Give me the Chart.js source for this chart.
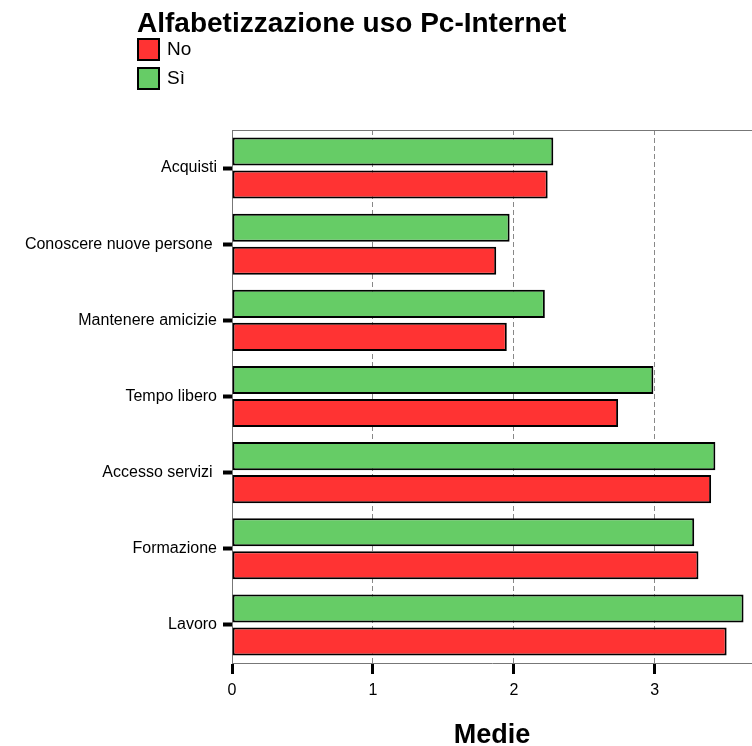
<!DOCTYPE html>
<html>
<head>
<meta charset="utf-8">
<script src="https://cdn.jsdelivr.net/npm/chart.js@4/dist/chart.umd.min.js"></script>
<style>
  body { margin: 0; background: #fff; font-family: "Liberation Sans", Arial, sans-serif; }
  #wrap { position: relative; width: 752px; height: 746px; }
  #chartContainer { position: absolute; left: 0; top: 0; }
  #title { position: absolute; left: 137px; top: 7px; font-size: 28px; font-weight: bold; color: #000; white-space: nowrap; }
  #legend { position: absolute; left: 137px; top: 38px; }
  .item { display: flex; align-items: center; height: 22px; margin-bottom: 7px; font-size: 19px; }
  .box { width: 19px; height: 19px; border: 2px solid #000; margin-right: 7px; }
</style>
</head>
<body>
<div id="wrap">
  <canvas id="chartContainer" width="752" height="746"></canvas>
  <div id="title">Alfabetizzazione uso Pc-Internet</div>
  <div id="legend"></div>
</div>
<script>
// Variables
const categories = ['Acquisti', 'Conoscere nuove persone ', 'Mantenere amicizie', 'Tempo libero', 'Accesso servizi ', 'Formazione', 'Lavoro'];
const siValues = [2.28, 1.97, 2.22, 2.99, 3.43, 3.28, 3.63];
const noValues = [2.24, 1.875, 1.95, 2.74, 3.40, 3.31, 3.51];
const xTicks = [0, 1, 2, 3];
const legendOrder = ['No', 'Sì'];
const colors = { 'No': '#FF3333', 'Sì': '#66CC66' };

// Build the legend (No first, Sì second as in the picture)
const legendDiv = document.getElementById('legend');
legendOrder.forEach(name => {
    const item = document.createElement('div');
    item.className = 'item';
    item.innerHTML = '<div class="box" style="background:' + colors[name] + '"></div><span>' + name + '</span>';
    legendDiv.appendChild(item);
});

// Draws the grey line along the top of the plot area
const frameTop = {
    id: 'frameTop',
    afterDraw(chart) {
        const { ctx, chartArea } = chart;
        ctx.save();
        ctx.strokeStyle = '#777';
        ctx.lineWidth = 1;
        ctx.beginPath();
        ctx.moveTo(chartArea.left, chartArea.top + 0.5);
        ctx.lineTo(chartArea.right, chartArea.top + 0.5);
        ctx.stroke();
        ctx.restore();
    }
};

const font = { family: '"Liberation Sans", Arial, sans-serif', size: 16 };

const ctx = document.getElementById('chartContainer').getContext('2d');
const chart = new Chart(ctx, {
    type: 'bar',
    data: {
        labels: categories,
        datasets: [{
            label: 'Sì',
            data: siValues,
            backgroundColor: colors['Sì'],
            borderColor: '#000',
            borderWidth: 2,
            borderSkipped: false
        }, {
            label: 'No',
            data: noValues,
            backgroundColor: colors['No'],
            borderColor: '#000',
            borderWidth: 2,
            borderSkipped: false
        }]
    },
    options: {
        indexAxis: 'y',
        responsive: false,
        animation: false,
        events: [],
        categoryPercentage: 0.867,
        barPercentage: 0.85,
        layout: { padding: { top: 130, left: 0, right: 0, bottom: 0 } },
        plugins: {
            legend: { display: false },
            tooltip: { enabled: false }
        },
        scales: {
            x: {
                min: 0,
                max: 3.69,
                afterFit: s => { s.height = 83; },
                afterBuildTicks: s => { s.ticks = xTicks.map(v => ({ value: v })); },
                ticks: { color: '#000', font: font, padding: 7, includeBounds: false },
                grid: { color: '#888', lineWidth: 1, tickColor: '#000', tickWidth: 3, tickLength: 11 },
                border: { color: '#777', width: 1, dash: [5, 3] },
                title: {
                    display: true,
                    text: 'Medie',
                    color: '#000',
                    font: { family: '"Liberation Sans", Arial, sans-serif', size: 27, weight: 'bold', lineHeight: 0.74 },
                    padding: { top: 0, bottom: 0 }
                }
            },
            y: {
                afterFit: s => { s.width = 232; },
                ticks: { color: '#000', font: font, padding: 6 },
                grid: { offset: false, drawOnChartArea: false, color: '#000', tickColor: '#000', tickWidth: 4, tickLength: 9 },
                border: { color: '#777', width: 1 }
            }
        }
    },
    plugins: [frameTop]
});
</script>
</body>
</html>
